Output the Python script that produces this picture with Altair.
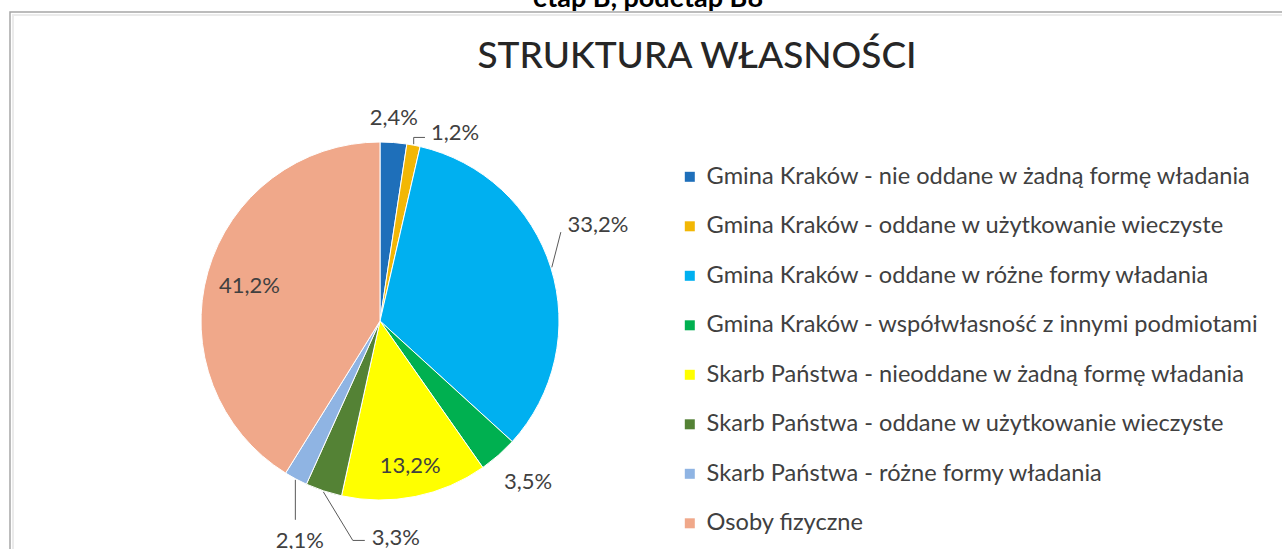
import math
import altair as alt
import pandas as pd

# ---------------- data ----------------
CATEGORIES = [
    "Gmina Kraków - nie oddane w żadną formę władania",
    "Gmina Kraków - oddane w użytkowanie wieczyste",
    "Gmina Kraków - oddane w różne formy władania",
    "Gmina Kraków - współwłasność z innymi podmiotami",
    "Skarb Państwa - nieoddane w żadną formę władania",
    "Skarb Państwa - oddane w użytkowanie wieczyste",
    "Skarb Państwa - różne formy władania",
    "Osoby fizyczne",
]
VALUES = [2.4, 1.2, 33.2, 3.5, 13.2, 3.3, 2.1, 41.2]
LABELS = ["2,4%", "1,2%", "33,2%", "3,5%", "13,2%", "3,3%", "2,1%", "41,2%"]
COLORS = ["#1E6FBA", "#F2B705", "#00B0F0", "#00B050",
          "#FFFF00", "#548235", "#8FB4E3", "#F0A88A"]
TITLE = "STRUKTURA WŁASNOŚCI"
TOP_TEXT = "etap B, podetap B8"

# ---------------- layout ----------------
W, H = 1282, 549
CX, CY, R = 380, 321, 179
FONT = "Lato"
TEXT_COLOR = "#404040"
# label placement: radius (px) and angular shift (degrees) from slice middle
LABEL_R = [203, 202, 238, 219, 148, 218, 234, 135]
LABEL_SHIFT = [-0.4, 11.0, -6.4, -1.2, -0.4, -22.5, -8.0, -1.0]

TOTAL = sum(VALUES)
mids = []
acc = 0.0
for v in VALUES:
    mids.append(acc + v / 2)
    acc += v

def polar(ang_units, r):
    a = ang_units / TOTAL * 2 * math.pi
    return CX + r * math.sin(a), CY - r * math.cos(a)

df = pd.DataFrame({
    "cat": CATEGORIES,
    "value": VALUES,
    "order": list(range(len(VALUES))),
    "label": LABELS,
    "la": [m + s / 360 * TOTAL for m, s in zip(mids, LABEL_SHIFT)],
    "lr": LABEL_R,
})

# leader lines: start on the slice edge at its middle angle, end next to its label
rows = []
def add_leader(i, pts):
    for k, (px, py) in enumerate(pts):
        rows.append({"g": LABELS[i], "k": k, "px": px, "py": py})

for i in (1, 2, 5, 6):
    sx, sy = polar(mids[i], R + 1)
    lx, ly = polar(df["la"][i], LABEL_R[i])
    if i == 1:
        add_leader(i, [(sx, sy), (sx, ly + 4), (lx - 30, ly + 4)])
    elif i == 2:
        add_leader(i, [(sx, sy), (lx - 37, ly + 7)])
    elif i == 5:
        add_leader(i, [(sx, sy), (lx - 43, ly + 2), (lx - 31, ly + 2)])
    elif i == 6:
        add_leader(i, [(sx, sy), (sx, ly - 21)])
lead_df = pd.DataFrame(rows)

# ---------------- chart ----------------
arc = alt.Chart(df).mark_arc(outerRadius=R, stroke="white", strokeWidth=1).encode(
    theta=alt.Theta("value:Q", stack=True, scale=alt.Scale(domain=[0, TOTAL])),
    order=alt.Order("order:Q"),
    color=alt.Color(
        "cat:N",
        scale=alt.Scale(domain=CATEGORIES, range=COLORS),
        legend=alt.Legend(
            title=None, orient="none", legendX=678, legendY=165,
            symbolType="square", symbolSize=100, symbolStrokeWidth=0,
            labelFont=FONT, labelFontSize=23.6, labelColor=TEXT_COLOR,
            labelLimit=800, labelOffset=5, rowPadding=24.5, padding=0,
        ),
    ),
    x=alt.value(CX),
    y=alt.value(CY),
)

labels = alt.Chart(df).mark_text(
    font=FONT, fontSize=22, color=TEXT_COLOR, align="center", baseline="middle"
).encode(
    theta=alt.Theta("la:Q", scale=alt.Scale(domain=[0, TOTAL])),
    radius=alt.Radius("lr:Q", scale=None),
    text="label:N",
    x=alt.value(CX),
    y=alt.value(CY),
)

leaders = alt.Chart(lead_df).mark_line(color="#595959", strokeWidth=1).encode(
    x=alt.X("px:Q", scale=None, axis=None),
    y=alt.Y("py:Q", scale=None, axis=None),
    detail="g:N",
    order="k:Q",
)

title = alt.Chart(pd.DataFrame({"t": [TITLE]})).mark_text(
    font=FONT, fontSize=37, fontWeight=500, color="#262626",
    align="center", baseline="alphabetic"
).encode(text="t:N", x=alt.value(697), y=alt.value(68))

top = alt.Chart(pd.DataFrame({"t": [TOP_TEXT]})).mark_text(
    font=FONT, fontSize=27, fontWeight="bold", color="#000000",
    align="center", baseline="alphabetic"
).encode(text="t:N", x=alt.value(648), y=alt.value(7))

frame = alt.Chart(pd.DataFrame({"f": [0]})).mark_rect(
    fill="transparent", stroke="#A6A6A6", strokeWidth=1.5
).encode(x=alt.value(10), x2=alt.value(1400), y=alt.value(12), y2=alt.value(700))

frame2 = alt.Chart(pd.DataFrame({"f": [0]})).mark_rect(
    fill="transparent", stroke="#EBEBEB", strokeWidth=2
).encode(x=alt.value(13), x2=alt.value(1400), y=alt.value(15), y2=alt.value(700))

chart = alt.layer(frame2, frame, top, title, arc, leaders, labels).properties(
    width=W, height=H, padding=0, autosize=alt.AutoSizeParams(type="none"),
    background="white",
).configure_view(stroke=None)

chart.save("out.html", embed_options={"renderer": "svg", "actions": False})
